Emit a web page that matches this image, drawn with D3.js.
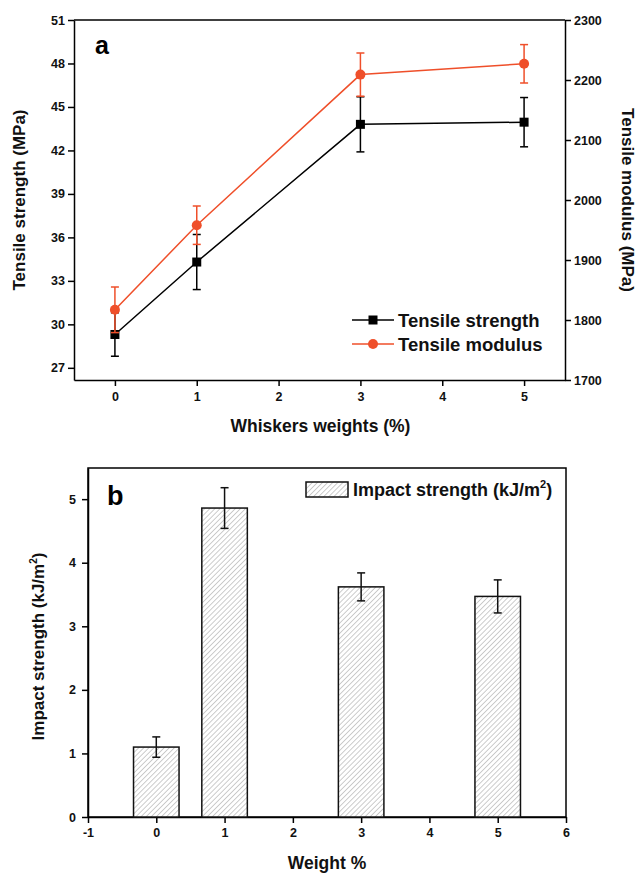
<!DOCTYPE html>
<html>
<head>
<meta charset="utf-8">
<script src="https://cdn.jsdelivr.net/npm/d3@7"></script>
<style>
  html, body { margin: 0; padding: 0; background: #fff; }
  svg text { font-family: "Liberation Sans", Arial, sans-serif; font-weight: bold; }
</style>
</head>
<body>
<div id="chart"></div>
<script>
// Panel a data
const weightsA = [0, 1, 3, 5];
const tensileStrength = [29.3, 34.3, 43.8, 43.95];
const tensileStrengthErr = [1.5, 1.9, 1.9, 1.7];
const tensileModulus = [1817, 1958, 2209, 2227];
const tensileModulusErr = [38, 32, 36, 32];

// Panel b data
const weightsB = [0, 1, 3, 5];
const impactStrength = [1.1, 4.86, 3.62, 3.47];
const impactErr = [0.16, 0.32, 0.22, 0.26];

// Tick labels
const strengthTicks = [27, 30, 33, 36, 39, 42, 45, 48, 51];
const modulusTicks = [1700, 1800, 1900, 2000, 2100, 2200, 2300];
const xTicksA = [0, 1, 2, 3, 4, 5];
const xTicksB = [-1, 0, 1, 2, 3, 4, 5, 6];
const yTicksB = [0, 1, 2, 3, 4, 5];

const red = "#ef4f2a";
const plain = d => String(d); // "-1" with a hyphen, no thousands separator

const svg = d3.select("#chart").append("svg")
  .attr("width", 639)
  .attr("height", 876);

// hatch pattern for the bars
const defs = svg.append("defs");
defs.append("pattern")
  .attr("id", "hatch")
  .attr("patternUnits", "userSpaceOnUse")
  .attr("width", 3.6)
  .attr("height", 3.6)
  .attr("patternTransform", "rotate(45)")
  .call(p => {
    p.append("rect").attr("width", 3.6).attr("height", 3.6).attr("fill", "#fff");
    p.append("line").attr("x1", 0).attr("y1", 0).attr("x2", 0).attr("y2", 3.6)
      .attr("stroke", "#9a9a9a").attr("stroke-width", 1);
  });

function styleAxis(g) {
  g.selectAll("path, line").attr("stroke", "#000").attr("stroke-width", 1.5);
  g.selectAll("text").attr("font-size", 12.5).attr("fill", "#111");
}

// ---------- Panel a ----------
const a = { left: 74, right: 565, top: 20, bottom: 380 };

const xA = d3.scaleLinear().domain([-0.5, 5.5]).range([a.left, a.right]);
const yL = d3.scaleLinear().domain([26.16, 51]).range([a.bottom, a.top]);
const yR = d3.scaleLinear().domain([1700, 2300]).range([a.bottom, a.top]);

const gA = svg.append("g");

// top border
gA.append("line")
  .attr("x1", a.left).attr("x2", a.right)
  .attr("y1", a.top).attr("y2", a.top)
  .attr("stroke", "#000").attr("stroke-width", 1.5);

gA.append("g")
  .attr("transform", `translate(0,${a.bottom})`)
  .call(d3.axisBottom(xA).tickValues(xTicksA).tickFormat(plain).tickSize(6).tickSizeOuter(0).tickPadding(6))
  .call(styleAxis);

gA.append("g")
  .attr("transform", `translate(${a.left},0)`)
  .call(d3.axisLeft(yL).tickValues(strengthTicks).tickFormat(plain).tickSize(6).tickSizeOuter(0).tickPadding(3))
  .call(styleAxis);

gA.append("g")
  .attr("transform", `translate(${a.right},0)`)
  .call(d3.axisRight(yR).tickValues(modulusTicks).tickFormat(plain).tickSize(6).tickSizeOuter(0).tickPadding(3))
  .call(styleAxis);

// series drawing helper
function drawSeries(g, xs, ys, errs, yScale, color, marker) {
  const pts = xs.map((x, i) => ({ x, y: ys[i], e: errs[i] }));
  g.append("path")
    .datum(pts)
    .attr("fill", "none")
    .attr("stroke", color)
    .attr("stroke-width", 1.5)
    .attr("d", d3.line().x(d => xA(d.x)).y(d => yScale(d.y)));

  const eb = g.append("g").attr("stroke", color).attr("stroke-width", 1.5);
  pts.forEach(d => {
    const cx = xA(d.x);
    const y1 = yScale(d.y + d.e), y2 = yScale(d.y - d.e);
    eb.append("line").attr("x1", cx).attr("x2", cx).attr("y1", y1).attr("y2", y2);
    eb.append("line").attr("x1", cx - 4).attr("x2", cx + 4).attr("y1", y1).attr("y2", y1);
    eb.append("line").attr("x1", cx - 4).attr("x2", cx + 4).attr("y1", y2).attr("y2", y2);
  });

  if (marker === "square") {
    g.selectAll(null).data(pts).join("rect")
      .attr("x", d => xA(d.x) - 4.5).attr("y", d => yScale(d.y) - 4.5)
      .attr("width", 9).attr("height", 9).attr("fill", color);
  } else {
    g.selectAll(null).data(pts).join("circle")
      .attr("cx", d => xA(d.x)).attr("cy", d => yScale(d.y))
      .attr("r", 5).attr("fill", color);
  }
}

drawSeries(gA.append("g"), weightsA, tensileStrength, tensileStrengthErr, yL, "#000", "square");
drawSeries(gA.append("g"), weightsA, tensileModulus, tensileModulusErr, yR, red, "circle");

// panel label
gA.append("text").attr("x", 95).attr("y", 54).attr("font-size", 25).text("a");

// legend
const legA = gA.append("g");
[["Tensile strength", "#000", "square"], ["Tensile modulus", red, "circle"]].forEach((d, i) => {
  const y = 320 + i * 24;
  legA.append("line").attr("x1", 352).attr("x2", 394).attr("y1", y).attr("y2", y)
    .attr("stroke", d[1]).attr("stroke-width", 1.5);
  if (d[2] === "square") {
    legA.append("rect").attr("x", 368.5).attr("y", y - 4.5).attr("width", 9).attr("height", 9).attr("fill", d[1]);
  } else {
    legA.append("circle").attr("cx", 373).attr("cy", y).attr("r", 5).attr("fill", d[1]);
  }
  legA.append("text").attr("x", 398).attr("y", y + 7).attr("font-size", 18.5).attr("fill", "#111").text(d[0]);
});

// axis titles
gA.append("text")
  .attr("transform", `translate(25,${(a.top + a.bottom) / 2}) rotate(-90)`)
  .attr("text-anchor", "middle").attr("font-size", 17).attr("fill", "#111")
  .text("Tensile strength (MPa)");
gA.append("text")
  .attr("transform", `translate(622,${(a.top + a.bottom) / 2}) rotate(90)`)
  .attr("text-anchor", "middle").attr("font-size", 17).attr("fill", "#111")
  .text("Tensile modulus (MPa)");
gA.append("text")
  .attr("x", (a.left + a.right) / 2 + 1).attr("y", 432)
  .attr("text-anchor", "middle").attr("font-size", 17.5).attr("fill", "#111")
  .text("Whiskers weights (%)");

// ---------- Panel b ----------
const b = { left: 88, right: 566, top: 468, bottom: 817 };

const xB = d3.scaleLinear().domain([-1, 6]).range([b.left, b.right]);
const yB = d3.scaleLinear().domain([0, 5.49]).range([b.bottom, b.top]);

const gB = svg.append("g");

// frame
gB.append("rect")
  .attr("x", b.left).attr("y", b.top)
  .attr("width", b.right - b.left).attr("height", b.bottom - b.top)
  .attr("fill", "none").attr("stroke", "#000").attr("stroke-width", 1.5);

gB.append("g")
  .attr("transform", `translate(0,${b.bottom})`)
  .call(d3.axisBottom(xB).tickValues(xTicksB).tickFormat(plain).tickSize(6).tickSizeOuter(0).tickPadding(5))
  .call(styleAxis);

gB.append("g")
  .attr("transform", `translate(${b.left},0)`)
  .call(d3.axisLeft(yB).tickValues(yTicksB).tickFormat(plain).tickSize(6).tickSizeOuter(0).tickPadding(6))
  .call(styleAxis);

const barW = xB(1 / 3) - xB(-1 / 3);
const bars = weightsB.map((x, i) => ({ x, v: impactStrength[i], e: impactErr[i] }));

gB.selectAll(".bar").data(bars).join("rect")
  .attr("class", "bar")
  .attr("x", d => xB(d.x) - barW / 2)
  .attr("y", d => yB(d.v))
  .attr("width", barW)
  .attr("height", d => yB(0) - yB(d.v))
  .attr("fill", "url(#hatch)")
  .attr("stroke", "#111").attr("stroke-width", 1.5);

const ebB = gB.append("g").attr("stroke", "#111").attr("stroke-width", 1.5);
bars.forEach(d => {
  const cx = xB(d.x);
  const y1 = yB(d.v + d.e), y2 = yB(d.v - d.e);
  ebB.append("line").attr("x1", cx).attr("x2", cx).attr("y1", y1).attr("y2", y2);
  ebB.append("line").attr("x1", cx - 4).attr("x2", cx + 4).attr("y1", y1).attr("y2", y1);
  ebB.append("line").attr("x1", cx - 4).attr("x2", cx + 4).attr("y1", y2).attr("y2", y2);
});

gB.append("text").attr("x", 107).attr("y", 505).attr("font-size", 27).text("b");

// legend
gB.append("rect")
  .attr("x", 306).attr("y", 482).attr("width", 42).attr("height", 15)
  .attr("fill", "url(#hatch)").attr("stroke", "#111").attr("stroke-width", 1.5);
gB.append("text")
  .attr("x", 353).attr("y", 496).attr("font-size", 18).attr("fill", "#111")
  .call(t => {
    t.append("tspan").text("Impact strength (kJ/m");
    t.append("tspan").attr("dy", -8).attr("font-size", 11).text("2");
    t.append("tspan").attr("dy", 8).text(")");
  });

// axis titles
gB.append("text")
  .attr("transform", `translate(44,${(b.top + b.bottom) / 2 + 4}) rotate(-90)`)
  .attr("text-anchor", "middle").attr("font-size", 17).attr("fill", "#111")
  .call(t => {
    t.append("tspan").text("Impact strength (kJ/m");
    t.append("tspan").attr("dy", -7).attr("font-size", 10).text("2");
    t.append("tspan").attr("dy", 7).text(")");
  });
gB.append("text")
  .attr("x", 327).attr("y", 869)
  .attr("text-anchor", "middle").attr("font-size", 17.5).attr("fill", "#111")
  .text("Weight %");
</script>
</body>
</html>
